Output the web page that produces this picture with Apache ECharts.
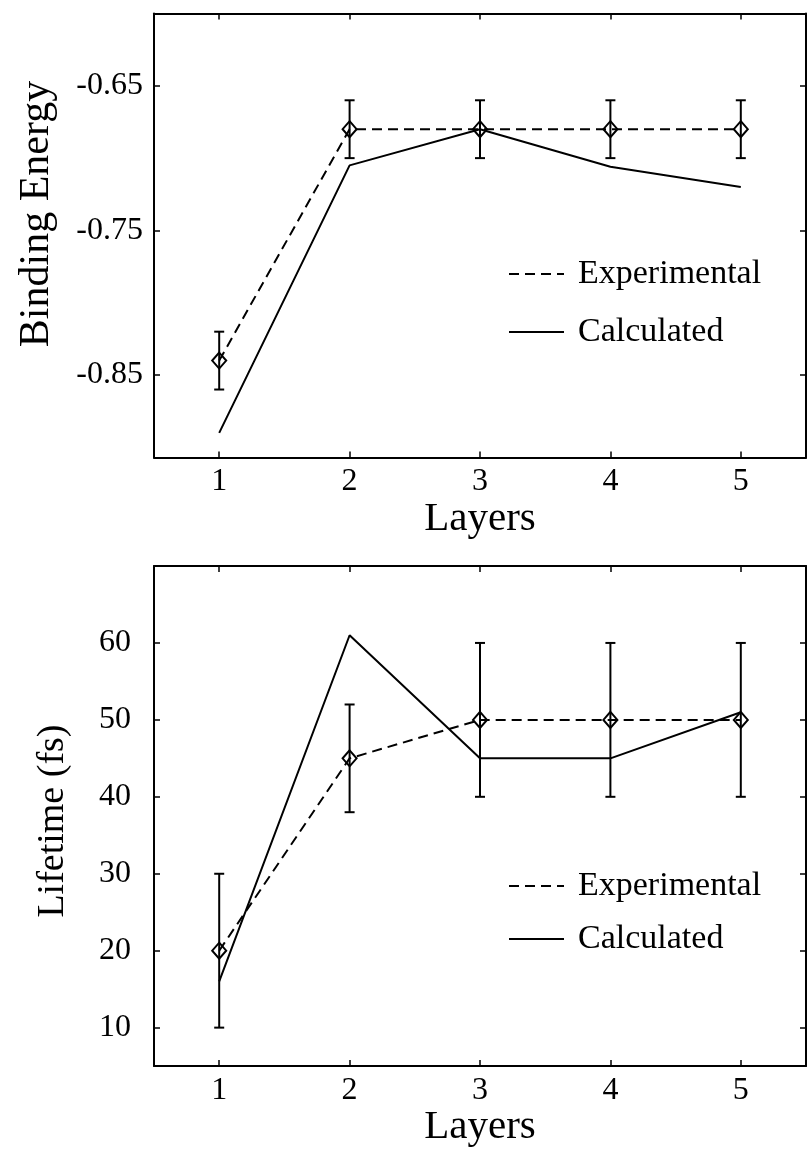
<!DOCTYPE html>
<html>
<head>
<meta charset="utf-8">
<script src="https://cdn.jsdelivr.net/npm/echarts@6/dist/echarts.min.js"></script>
<style>
  html, body { margin: 0; padding: 0; background: #fff; }
  #chart { width: 807px; height: 1149px; }
</style>
</head>
<body>
<div id="chart"></div>
<script>
// Layer count on the horizontal axis of both panels
const layers = [1, 2, 3, 4, 5];

// Upper panel: binding energy
const bindingExp = [-0.84, -0.68, -0.68, -0.68, -0.68];
const bindingExpErr = [0.02, 0.02, 0.02, 0.02, 0.02];
const bindingCalc = [-0.89, -0.705, -0.68, -0.706, -0.72];
const bindingTicks = [-0.85, -0.75, -0.65];

// Lower panel: lifetime in femtoseconds
const lifetimeExp = [20, 45, 50, 50, 50];
const lifetimeExpErr = [10, 7, 10, 10, 10];
const lifetimeCalc = [16, 61, 45, 45, 51];
const lifetimeTicks = [10, 20, 30, 40, 50, 60];

const FONT = '"Liberation Serif", "Times New Roman", serif';
const INK = '#000';

const pairs = (ys) => layers.map((x, i) => [x, ys[i]]);
const triples = (ys, es) => layers.map((x, i) => [x, ys[i], es[i]]);

// Vertical error bar with caps plus an open diamond at the measured value
function errorBarItem(params, api) {
  const x = api.value(0), y = api.value(1), e = api.value(2);
  const c = api.coord([x, y]);
  const hi = api.coord([x, y + e]);
  const lo = api.coord([x, y - e]);
  const cap = 5, dw = 7, dh = 8;
  const st = { stroke: INK, lineWidth: 2 };
  return {
    type: 'group',
    children: [
      { type: 'line', shape: { x1: c[0], y1: hi[1], x2: c[0], y2: lo[1] }, style: st },
      { type: 'line', shape: { x1: c[0] - cap, y1: hi[1], x2: c[0] + cap, y2: hi[1] }, style: st },
      { type: 'line', shape: { x1: c[0] - cap, y1: lo[1], x2: c[0] + cap, y2: lo[1] }, style: st },
      { type: 'polygon',
        shape: { points: [[c[0], c[1] - dh], [c[0] + dw, c[1]], [c[0], c[1] + dh], [c[0] - dw, c[1]]] },
        style: { stroke: INK, lineWidth: 2, fill: 'none' } }
    ]
  };
}

const lineAxis = { show: true, onZero: false, lineStyle: { color: INK, width: 2 } };

function xAxisDef(gridIndex, position, withLabels, name) {
  return {
    type: 'value', gridIndex, position, min: 0.5, max: 5.5,
    axisLine: lineAxis,
    axisTick: { show: true, inside: true, length: 6, customValues: layers,
                lineStyle: { color: INK, width: 1.5 } },
    axisLabel: { show: withLabels, customValues: layers, margin: 8, color: INK,
                 fontFamily: FONT, fontSize: 32 },
    splitLine: { show: false },
    name: name || '', nameLocation: 'middle', nameGap: 40,
    nameTextStyle: { color: INK, fontFamily: FONT, fontSize: 41 }
  };
}

function yAxisDef(gridIndex, position, min, max, ticks, withLabels, margin, name, nameSize, nameGap, namePad) {
  return {
    type: 'value', gridIndex, position, min, max,
    axisLine: lineAxis,
    axisTick: { show: true, inside: true, length: 6, customValues: ticks,
                lineStyle: { color: INK, width: 1.5 } },
    axisLabel: { show: withLabels, customValues: ticks, margin, color: INK,
                 fontFamily: FONT, fontSize: 32 },
    splitLine: { show: false },
    name: name || '', nameLocation: 'middle', nameGap: nameGap || 0, nameRotate: 90,
    nameTextStyle: { color: INK, fontFamily: FONT, fontSize: nameSize || 40,
                     padding: namePad || 0 }
  };
}

function legendDef(top, gap) {
  return {
    data: ['Experimental', 'Calculated'],
    orient: 'vertical', left: 503, top, itemWidth: 55, itemHeight: 14, itemGap: gap,
    selectedMode: false,
    itemStyle: { color: 'rgba(0,0,0,0)', borderWidth: 0 },
    textStyle: { color: INK, fontFamily: FONT, fontSize: 34, padding: [0, 0, 0, 9] }
  };
}

const dashed = { color: INK, width: 2, type: [10, 6] };
const solid = { color: INK, width: 2, type: 'solid' };

const option = {
  animation: false,
  backgroundColor: '#fff',
  grid: [
    { left: 154, top: 13.5, width: 652, height: 444 },
    { left: 154, top: 566, width: 652, height: 506 }
  ],
  xAxis: [
    xAxisDef(0, 'bottom', true, 'Layers'),
    xAxisDef(0, 'top', false),
    xAxisDef(1, 'bottom', true, 'Layers'),
    xAxisDef(1, 'top', false)
  ],
  yAxis: [
    yAxisDef(0, 'left', -0.907, -0.6, bindingTicks, true, 11, 'Binding Energy', 42, 96, [0, 0, 0, 43]),
    yAxisDef(0, 'right', -0.907, -0.6, bindingTicks, false, 8),
    yAxisDef(1, 'left', 5, 70, lifetimeTicks, true, 23, 'Lifetime (fs)', 38, 82, [0, 10, 0, 0]),
    yAxisDef(1, 'right', 5, 70, lifetimeTicks, false, 8)
  ],
  legend: [legendDef(252, 24), legendDef(864, 19)],
  series: [
    { name: 'Experimental', type: 'line', xAxisIndex: 0, yAxisIndex: 0,
      data: pairs(bindingExp), symbol: 'none', lineStyle: dashed, itemStyle: { color: INK } },
    { name: 'Calculated', type: 'line', xAxisIndex: 0, yAxisIndex: 0,
      data: pairs(bindingCalc), symbol: 'none', lineStyle: solid, itemStyle: { color: INK } },
    { name: 'Experimental uncertainty', type: 'custom', xAxisIndex: 0, yAxisIndex: 0,
      data: triples(bindingExp, bindingExpErr), renderItem: errorBarItem, z: 5 },

    { name: 'Experimental', type: 'line', xAxisIndex: 2, yAxisIndex: 2,
      data: pairs(lifetimeExp), symbol: 'none', lineStyle: dashed, itemStyle: { color: INK } },
    { name: 'Calculated', type: 'line', xAxisIndex: 2, yAxisIndex: 2,
      data: pairs(lifetimeCalc), symbol: 'none', lineStyle: solid, itemStyle: { color: INK } },
    { name: 'Lifetime uncertainty', type: 'custom', xAxisIndex: 2, yAxisIndex: 2,
      data: triples(lifetimeExp, lifetimeExpErr), renderItem: errorBarItem, z: 5 }
  ]
};

const chart = echarts.init(document.getElementById('chart'), null, { renderer: 'canvas' });
chart.setOption(option);
</script>
</body>
</html>
